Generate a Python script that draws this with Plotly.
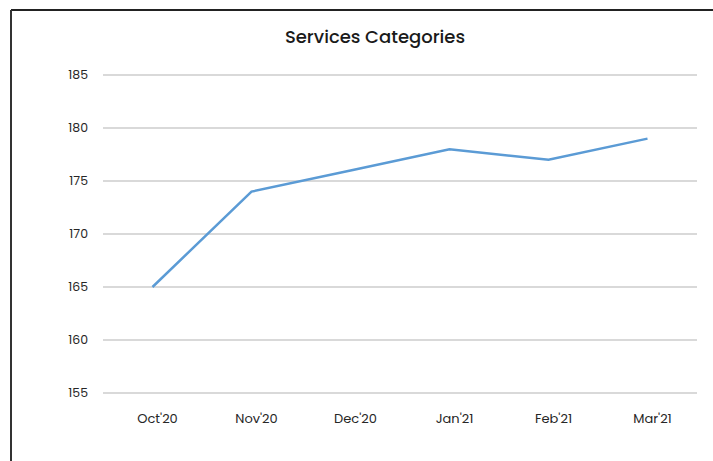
import plotly.graph_objects as go

# Monthly service category counts
months = ["Oct'20", "Nov'20", "Dec'20", "Jan'21", "Feb'21", "Mar'21"]
services = [165, 174, 176, 178, 177, 179]
y_ticks = [155, 160, 165, 170, 175, 180, 185]

FONT = "Poppins, Inter, Roboto, sans-serif"

fig = go.Figure(
    go.Scatter(
        x=months,
        y=services,
        mode="lines",
        line=dict(color="#5B9BD5", width=2.5),
        hoverinfo="x+y",
    )
)

fig.update_layout(
    width=713,
    height=461,
    margin=dict(l=103, r=16, t=74, b=67, autoexpand=False),
    paper_bgcolor="white",
    plot_bgcolor="white",
    showlegend=False,
    font=dict(family=FONT, size=12, color="#262626"),
    title=dict(
        text="Services Categories",
        x=375 / 713,
        xanchor="center",
        xref="container",
        y=1 - 37 / 461,
        yanchor="middle",
        yref="container",
        font=dict(family=FONT, size=18, color="#1a1a1a", weight=500),
    ),
    xaxis=dict(
        type="category",
        range=[-0.5, len(months) - 0.5],
        showgrid=False,
        showline=False,
        zeroline=False,
        ticks="",
        ticklabelstandoff=15,
        ticklabelshift=5,
        tickfont=dict(size=13),
    ),
    yaxis=dict(
        range=[154.9, 185.1],
        tickvals=y_ticks,
        showgrid=True,
        gridcolor="#D9D9D9",
        gridwidth=1.5,
        showline=False,
        zeroline=False,
        ticks="",
        ticklabelstandoff=14,
        tickfont=dict(size=12.5),
    ),
    # frame lines along the top and left edges
    shapes=[
        dict(type="line", xref="paper", yref="paper",
             x0=(11 - 103) / 594, x1=(713 - 103) / 594,
             y0=(394 - 10) / 320, y1=(394 - 10) / 320,
             line=dict(color="#222222", width=2)),
        dict(type="line", xref="paper", yref="paper",
             x0=(11 - 103) / 594, x1=(11 - 103) / 594,
             y0=(394 - 10) / 320, y1=(394 - 461) / 320,
             line=dict(color="#333333", width=2)),
    ],
)

fig.write_html("out.html")
